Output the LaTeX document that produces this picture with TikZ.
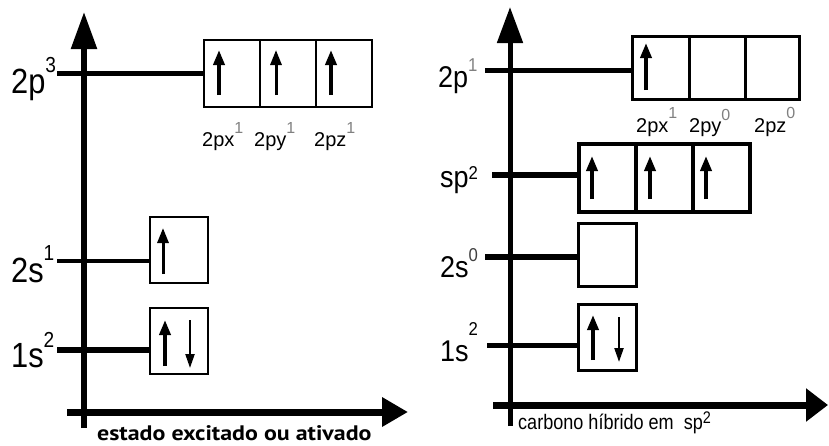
\documentclass[tikz,border=0pt]{standalone}
\usepackage{fontspec}
\setmainfont{Liberation Sans}
\newfontfamily\captionfont{PT Sans}
\usetikzlibrary{arrows.meta}
% raised index: [scale]{raise}{colour}{text}
\newcommand\supr[4][0.62]{\raisebox{#2}{\textcolor{#3}{\scalebox{#1}{#4}}}}

\begin{document}
\begin{tikzpicture}[x=1pt,y=-1pt,
  vaxis/.style={line width=5.5pt},
  haxis/.style={line width=7pt},
  orb/.style={draw, line width=2.6pt, inner sep=0pt, outer sep=0pt, anchor=north west},
  orbh/.style={orb, line width=4pt},
  lvl/.style={line width=5pt},
  eup/.style={line width=3.6pt, -{Triangle[length=15pt,width=11pt]}},
  edown/.style={line width=2.2pt, -{Triangle[length=14pt,width=9pt]}},
  biglbl/.style={anchor=base west, inner sep=0pt, font=\fontsize{35}{35}\selectfont},
  midlbl/.style={anchor=base west, inner sep=0pt, font=\fontsize{30}{30}\selectfont},
  sublbl/.style={anchor=base west, inner sep=0pt, font=\fontsize{20}{20}\selectfont},
]
\useasboundingbox (0,0) rectangle (829,445);

% ---------------- excited state ----------------
\coordinate (lyb) at (84,428);
\coordinate (lyt) at (84,12);
\coordinate (lxl) at (67,412);
\coordinate (lxr) at (408,412);
\draw[vaxis, -{Triangle[length=37pt,width=25pt]}] (lyb) -- (lyt);
\draw[haxis, -{Triangle[length=26pt,width=28pt]}] (lxl) -- (lxr);

% 2p boxes
\node[orb, minimum width=56pt, minimum height=67pt] (Lpx) at (204,40) {};
\node[orb, minimum width=56pt, minimum height=67pt] (Lpy) at (260,40) {};
\node[orb, minimum width=56pt, minimum height=67pt] (Lpz) at (316,40) {};
% 2s and 1s boxes
\node[orb, minimum width=58pt, minimum height=66pt] (Ls2) at (150,217) {};
\node[orb, minimum width=58pt, minimum height=66pt] (Ls1) at (150,308) {};

% level labels
\node[biglbl] (tL2p) at (11,93) {\scalebox{0.88}[1]{2p\supr{21pt}{black}{3}}};
\node[biglbl] (tL2s) at (11,282) {\scalebox{0.88}[1]{2s\supr{22pt}{black}{1}}};
\node[biglbl] (tL1s) at (11,367) {\scalebox{0.88}[1]{1s\supr{20pt}{black}{2}}};

% level lines
\coordinate (aL2p) at (57,73);
\coordinate (aL2s) at (57,261);
\coordinate (aL1s) at (57,350);
\draw[lvl] (aL2p) -- (aL2p -| Lpx.west);
\draw[line width=4pt] (aL2s) -- (aL2s -| Ls2.west);
\draw[lvl, line width=5.5pt] (aL1s) -- (aL1s -| Ls1.west);

% electrons
\draw[eup] (219,95) -- (219,50);
\draw[eup, line width=3pt] (276,95) -- (276,50);
\draw[eup] (331,95) -- (331,50);
\draw[eup, line width=3pt] (163,274) -- (163,228);
\draw[eup] (165,366) -- (165,320);
\draw[edown] (190,320) -- (190,368);

% orbital names
\node[sublbl] (nLx) at (202,146) {2px\supr[0.8]{13pt}{gray}{1}};
\node[sublbl] (nLy) at (254,146) {2py\supr[0.8]{13pt}{gray}{1}};
\node[sublbl] (nLz) at (314,146) {2pz\supr[0.8]{13pt}{gray}{1}};

\node[anchor=base west, inner sep=0pt, font=\captionfont\bfseries\fontsize{21}{21}\selectfont] (capL) at (97,440) {\scalebox{1.14}[1]{estado excitado ou ativado}};

% ---------------- sp2 hybrid ----------------
\coordinate (ryb) at (510,426);
\coordinate (ryt) at (510,7);
\coordinate (rxl) at (493,405);
\coordinate (rxr) at (828,405);
\draw[vaxis, line width=5pt, -{Triangle[length=36pt,width=25pt]}] (ryb) -- (ryt);
\draw[haxis, -{Triangle[length=22pt,width=32pt]}] (rxl) -- (rxr);

% 2p boxes
\node[orb, line width=3pt, minimum width=57pt, minimum height=63pt] (Rpx) at (632,36) {};
\node[orb, line width=3pt, minimum width=56pt, minimum height=63pt] (Rpy) at (689,36) {};
\node[orb, line width=3pt, minimum width=54pt, minimum height=63pt] (Rpz) at (745,36) {};
% sp2 boxes
\node[orbh, minimum width=57pt, minimum height=68pt] (Rh1) at (579,144) {};
\node[orbh, minimum width=57pt, minimum height=68pt] (Rh2) at (636,144) {};
\node[orbh, minimum width=57pt, minimum height=68pt] (Rh3) at (693,144) {};
% 2s and 1s boxes
\node[orb, line width=3pt, minimum width=58pt, minimum height=63pt] (Rs2) at (578,223) {};
\node[orb, line width=3pt, minimum width=58pt, minimum height=66pt] (Rs1) at (578,304) {};

% level labels
\node[midlbl] (tR2p) at (438,87) {\scalebox{0.9}[1]{2p\supr{16pt}{gray}{1}}};
\node[midlbl] (tRsp) at (440,187) {\scalebox{0.9}[1]{sp\supr{8pt}{black}{2}}};
\node[midlbl] (tR2s) at (440,277) {\scalebox{0.9}[1]{2s\supr{16pt}{black!75}{0}}};
\node[midlbl] (tR1s) at (440,361) {\scalebox{0.9}[1]{1s\supr{26pt}{black}{2}}};

% level lines
\coordinate (aR2p) at (485,70);
\coordinate (aRsp) at (492,175);
\coordinate (aR2s) at (485,257);
\coordinate (aR1s) at (487,345);
\draw[lvl] (aR2p) -- (aR2p -| Rpx.west);
\draw[lvl, line width=6pt] (aRsp) -- (aRsp -| Rh1.west);
\draw[lvl, line width=6pt] (aR2s) -- (aR2s -| Rs2.west);
\draw[lvl] (aR1s) -- (aR1s -| Rs1.west);

% electrons
\draw[eup] (646,90) -- (646,43);
\draw[eup] (592,199) -- (592,156);
\draw[eup] (650,199) -- (650,156);
\draw[eup] (706,199) -- (706,156);
\draw[eup] (593,360) -- (593,315);
\draw[edown] (619,317) -- (619,362);

% orbital names
\node[sublbl] (nRx) at (636,132) {2px\supr[0.8]{14pt}{gray}{1}};
\node[sublbl] (nRy) at (689,132) {2py\supr[0.8]{12pt}{gray}{0}};
\node[sublbl] (nRz) at (754,132) {2pz\supr[0.8]{14pt}{gray}{0}};

\node[anchor=base west, inner sep=0pt, font=\fontsize{21}{21}\selectfont] (capR) at (518,429) {\scalebox{0.86}[1]{carbono híbrido em\ \ sp\supr[0.8]{6pt}{black}{2}}};
\end{tikzpicture}
\end{document}
